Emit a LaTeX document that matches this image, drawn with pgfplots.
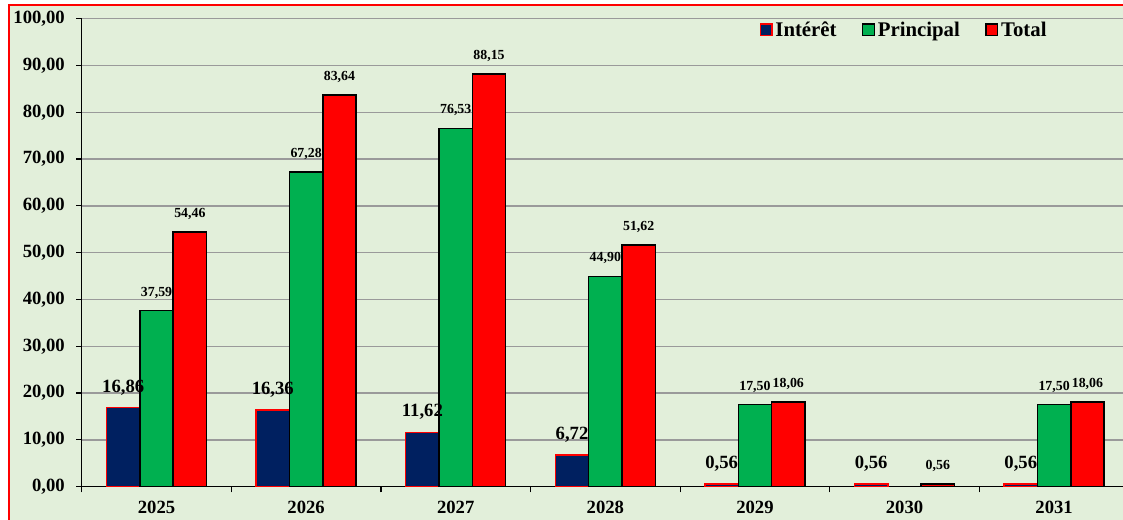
\documentclass[border=0pt]{standalone}
\usepackage{fontspec}
\setmainfont{Liberation Serif}
\usepackage{pgfplots}
\pgfplotsset{compat=1.18}
\definecolor{bg}{HTML}{E2EFDA}
\definecolor{navy}{HTML}{002060}
\definecolor{xlgreen}{HTML}{00B050}
\definecolor{gridgray}{HTML}{9A9A9A}
\newcommand{\bigf}{\bfseries\fontsize{14pt}{16pt}\selectfont}
\newcommand{\legf}{\bfseries\fontsize{15.6pt}{18pt}\selectfont}
\newcommand{\smallf}{\bfseries\fontsize{10.4pt}{12pt}\selectfont}
\pgfkeys{/pgf/number format/numfmt/.style={/pgf/number format/fixed,/pgf/number format/fixed zerofill,/pgf/number format/precision=2,/pgf/number format/use comma,/pgf/number format/assume math mode=true}}
\pgfplotsset{
  myleg/.style={legend image code/.code={\draw[##1,line width=1.1pt] (0pt,-4.4pt) rectangle (8.8pt,4.4pt);}},
}
\begin{document}
\begin{tikzpicture}
\path[use as bounding box] (0,0) rectangle (842.25pt,390pt);
\clip (0,0) rectangle (842.25pt,390pt);
\draw[red, line width=0.8pt, fill=bg] (6.75pt,-20pt) rectangle (880pt,386.25pt);
\begin{axis}[
  at={(61.3pt,25pt)}, anchor=south west,
  scale only axis, width=785.4pt, height=351pt,
  xmin=-0.5, xmax=6.5, ymin=0, ymax=100,
  axis lines=left, axis line style={-, black, line width=1pt},
  tick align=outside, major tick length=4.2pt,
  tick style={black, line width=0.9pt},
  xtick={-0.5,0.5,...,6.5}, xticklabels={},
  extra x ticks={0,1,2,3,4,5,6},
  extra x tick labels={2025,2026,2027,2028,2029,2030,2031},
  extra x tick style={major tick length=0pt, grid=none},
  xticklabel style={yshift=-7pt},
  ytick={0,10,...,100},
  scaled y ticks=false,
  yticklabel style={/pgf/number format/numfmt, xshift=-5pt},
  ticklabel style={font=\bigf},
  ymajorgrids=true,
  grid style={gridgray, line width=1pt},
  legend style={at={(axis description cs:0.647,0.976)}, anchor=west, draw=none, fill=none,
    font=\legf, inner xsep=0pt, inner ysep=0pt,
    /tikz/every even column/.append style={column sep=17pt}},
  legend columns=3,
  legend cell align=left,
  nodes near coords={\pgfmathprintnumber[/pgf/number format/numfmt]{\pgfplotspointmeta}},
]
\addplot[ybar, bar width=25pt, bar shift=-25pt, fill=navy, draw=red, line width=1.1pt,
  every node near coord/.append style={font=\bigf, anchor=base, xshift=-25pt, yshift=11.5pt, black}, myleg]
  coordinates {(0,16.86) (1,16.36) (2,11.62) (3,6.72) (4,0.56) (5,0.56) (6,0.56)};
\addlegendentry{Intérêt}
\addplot[ybar, bar width=25pt, bar shift=0pt, fill=xlgreen, draw=black, line width=1.1pt,
  every node near coord/.append style={font=\smallf, anchor=base, yshift=11pt, black}, myleg]
  coordinates {(0,37.59) (1,67.28) (2,76.53) (3,44.90) (4,17.50) (6,17.50)};
\addlegendentry{Principal}
\addplot[ybar, bar width=25pt, bar shift=25pt, fill=red, draw=black, line width=1.1pt,
  every node near coord/.append style={font=\smallf, anchor=base, xshift=25pt, yshift=11pt, black}, myleg]
  coordinates {(0,54.46) (1,83.64) (2,88.15) (3,51.62) (4,18.06) (5,0.56) (6,18.06)};
\addlegendentry{Total}
\end{axis}
\end{tikzpicture}
\end{document}
